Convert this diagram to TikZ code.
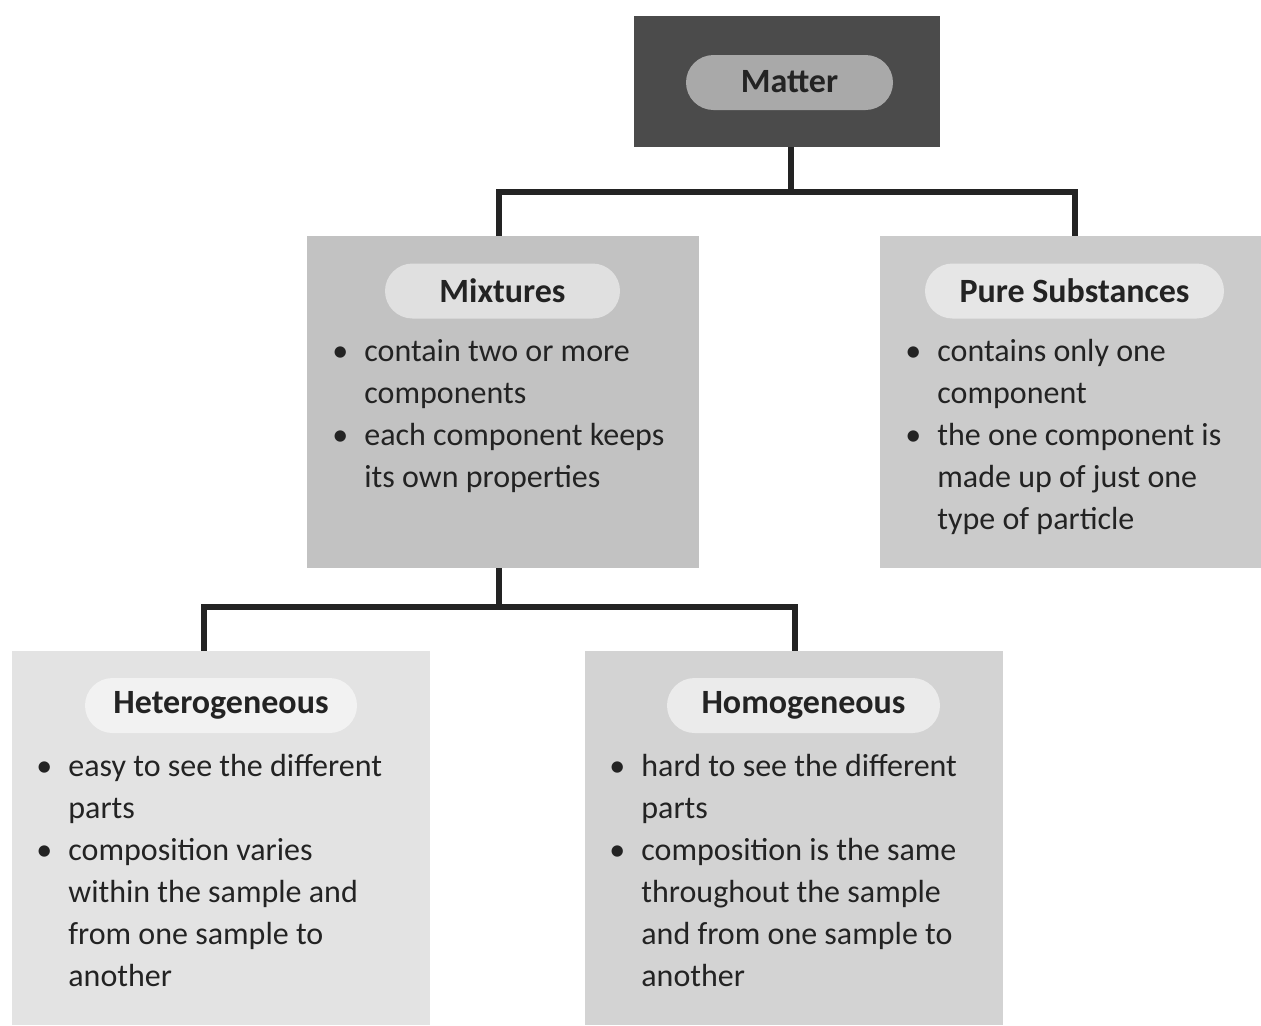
\documentclass[tikz,border=0pt]{standalone}
\usepackage{fontspec}
\setmainfont{Carlito}
\usetikzlibrary{positioning,calc}
\definecolor{darkbox}{HTML}{4B4B4B}
\definecolor{midpill}{HTML}{A9A9A9}
\definecolor{mixfill}{HTML}{C2C2C2}
\definecolor{purefill}{HTML}{CBCBCB}
\definecolor{hetfill}{HTML}{E3E3E3}
\definecolor{homfill}{HTML}{D3D3D3}
\definecolor{mixpill}{HTML}{E0E0E0}
\definecolor{purepill}{HTML}{E6E6E6}
\definecolor{hetpill}{HTML}{F2F2F2}
\definecolor{hompill}{HTML}{EBEBEB}
\definecolor{ink}{HTML}{232323}
\newcommand{\blist}[1]{\begin{tabular}[t]{@{}p{16pt}@{}l@{}}#1\end{tabular}}

\begin{document}
\begin{tikzpicture}[x=0.5pt,y=-0.5pt,
 box/.style={inner sep=0pt,outer sep=0pt},
 pill/.style={rounded corners=13.75pt,minimum height=27.5pt,inner sep=0pt,text=ink,font=\fontsize{17}{20}\selectfont\bfseries},
 body/.style={inner sep=0pt,anchor=base west,text=ink,font=\fontsize{16}{21}\selectfont},
 link/.style={line width=2.6pt,draw=ink}]
\useasboundingbox (0,0) rectangle (1261,1025);
\node[box,fill=darkbox,minimum width=153pt,minimum height=65.5pt] (matter) at (787,81.5) {};
\node[box,fill=mixfill,minimum width=196pt,minimum height=166pt] (mix) at (503,402) {};
\node[box,fill=purefill,minimum width=191pt,minimum height=166pt] (pure) at (1071,402) {};
\node[box,fill=hetfill,minimum width=209pt,minimum height=187pt] (het) at (221,838) {};
\node[box,fill=homfill,minimum width=209pt,minimum height=187pt] (hom) at (794,838) {};
\node[pill,fill=midpill,minimum width=103.5pt] (matterpill) at (789.5,82.5) {\raisebox{0.8pt}{Matter}};
\node[pill,fill=mixpill,minimum width=117.5pt] (mixpill) at (502.5,291) {\raisebox{0.8pt}{Mixtures}};
\node[pill,fill=purepill,minimum width=149.5pt] (purepill) at (1074.5,291) {\raisebox{0.8pt}{Pure Substances}};
\node[pill,fill=hetpill,minimum width=136pt] (hetpill) at (221,705.5) {\raisebox{0.8pt}{Heterogeneous}};
\node[pill,fill=hompill,minimum width=136.5pt] (hompill) at (803.5,705.5) {\raisebox{0.8pt}{Homogeneous}};
\node[body] (mixtext) at (332,361) {\blist{\textbullet & contain two or more\\ & components\\ \textbullet & each component keeps\\ & its own properties}};
\node[body] (puretext) at (905,361) {\blist{\textbullet & contains only one\\ & component\\ \textbullet & the one component is\\ & made up of just one\\ & type of particle}};
\node[body] (hettext) at (36,776) {\blist{\textbullet & easy to see the different\\ & parts\\ \textbullet & composition varies\\ & within the sample and\\ & from one sample to\\ & another}};
\node[body] (homtext) at (609,776) {\blist{\textbullet & hard to see the different\\ & parts\\ \textbullet & composition is the same\\ & throughout the sample\\ & and from one sample to\\ & another}};
\draw[link] ($(matter.south)+(4,0)$) -- ++(0,45) -| ($(mix.north)+(-4,0)$);
\draw[link] ($(matter.south)+(4,0)$) -- ++(0,45) -| ($(pure.north)+(4,0)$);
\draw[link] ($(mix.south)+(-4,0)$) -- ++(0,39) -| ($(het.north)+(-17,0)$);
\draw[link] ($(mix.south)+(-4,0)$) -- ++(0,39) -| ($(hom.north)+(1,0)$);
\end{tikzpicture}
\end{document}
